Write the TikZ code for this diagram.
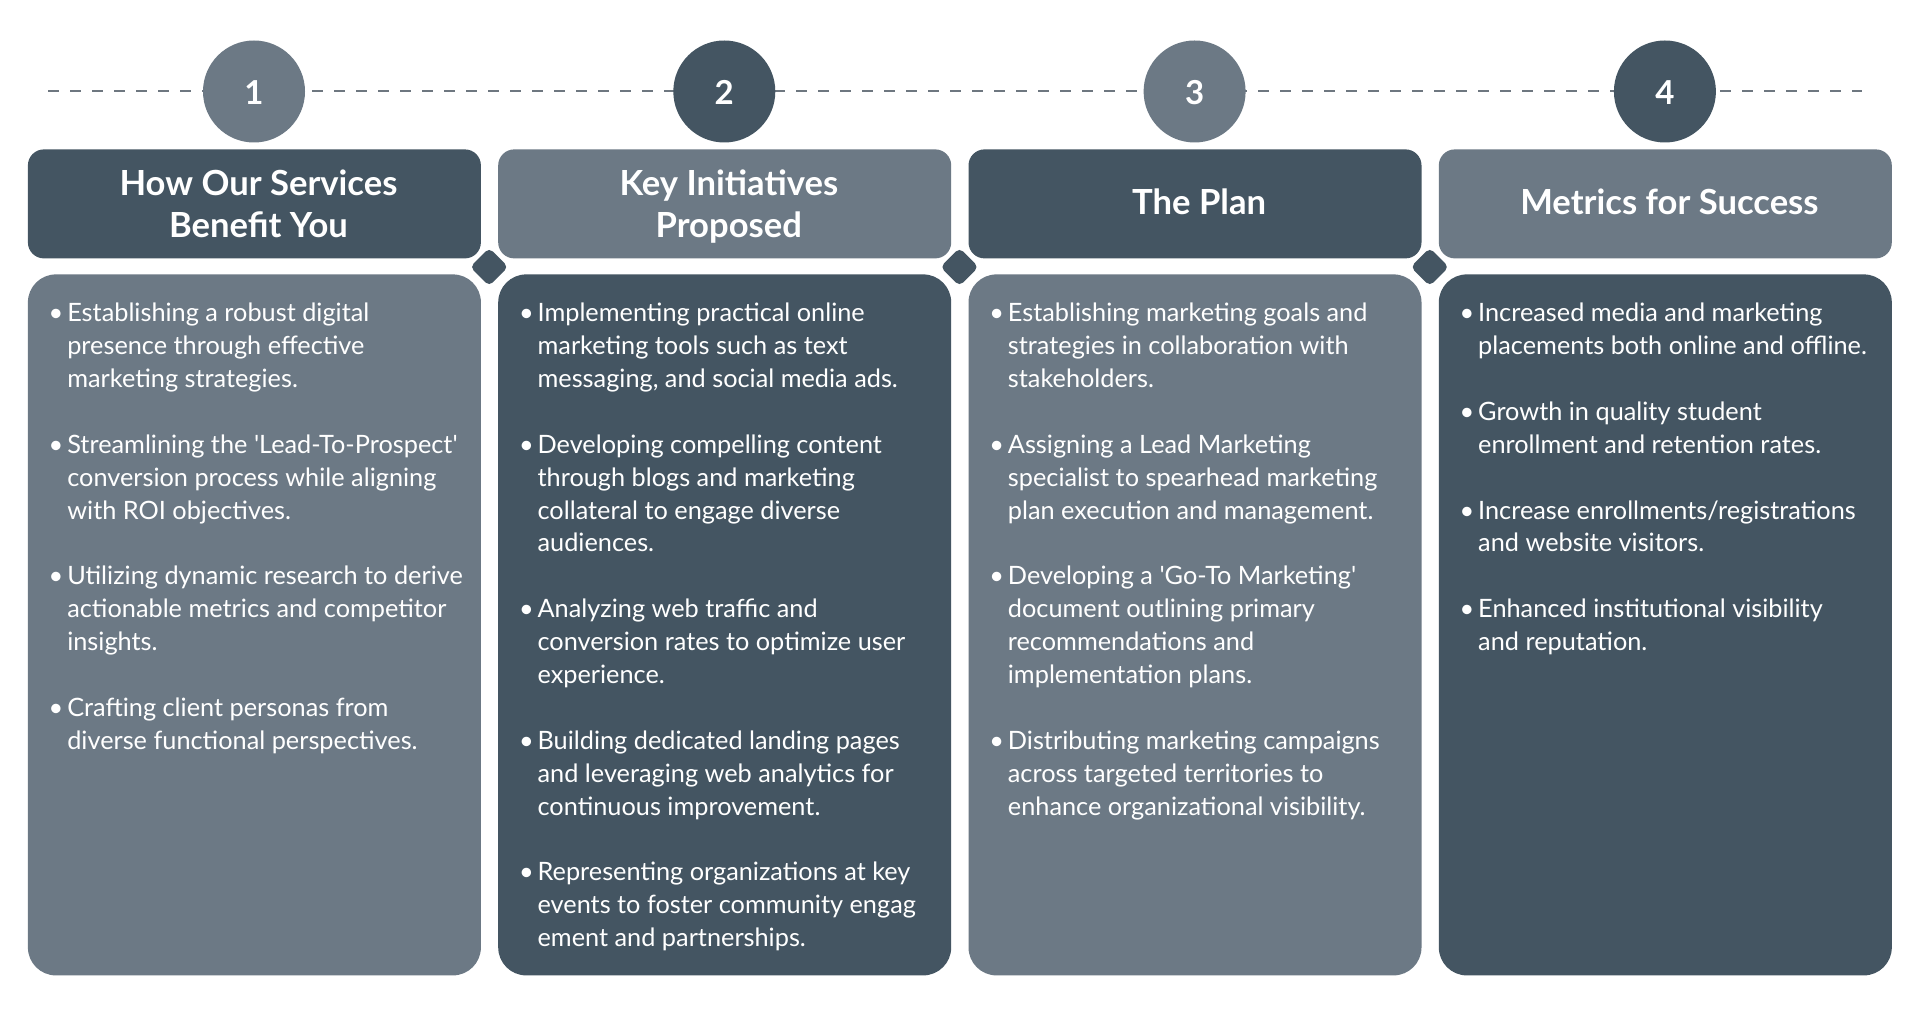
\documentclass[tikz,border=0pt]{standalone}
\usepackage{fontspec}
\newfontfamily\lato{Lato}
\definecolor{dk}{HTML}{445562}
\definecolor{lt}{HTML}{6C7985}
\definecolor{dashc}{HTML}{6E7780}
\begin{document}
\begin{tikzpicture}[x=0.5pt,y=-0.5pt,
  hdrbox/.style={rectangle, rounded corners=8pt, minimum width=226.5pt, minimum height=54.5pt, inner sep=0pt, anchor=north west},
  bodybox/.style={rectangle, rounded corners=14pt, minimum width=226.5pt, minimum height=350.5pt, inner sep=0pt, anchor=north west},
  numcirc/.style={circle, minimum size=51pt, inner sep=0pt},
  numtxt/.style={text=white, inner sep=0pt, anchor=base, font=\lato\bfseries\fontsize{16.5pt}{20pt}\selectfont},
  hdrtxt/.style={text=white, inner sep=0pt, anchor=base, font=\lato\bfseries\fontsize{17.3pt}{21pt}\selectfont},
  bodytxt/.style={text=white, inner sep=0pt, anchor=base west, font=\lato\fontsize{12.65pt}{16.45pt}\selectfont},
  gem/.style={rectangle, fill=dk, rotate=45, minimum size=13.5pt, inner sep=0pt, rounded corners=2.5pt}
]
\useasboundingbox (0,0) rectangle (1920,1020);
\fill[white] (0,0) rectangle (1920,1020);
% dashed timeline
\coordinate (ls) at (48,91.5);
\coordinate (le) at (1862,91.5);
\draw[dashc, line width=1pt, dash pattern=on 5.5pt off 5.5pt] (ls) -- (le);
% columns
\foreach \i/\hc/\bc/\n in {0/dk/lt/1, 1/lt/dk/2, 2/dk/lt/3, 3/lt/dk/4}{
  \pgfmathsetmacro\L{27.5+470.3*\i}
  \node[hdrbox, fill=\hc] (h\i) at (\L,149) {};
  \node[bodybox, fill=\bc] (b\i) at (\L,274) {};
  \node[numcirc, fill=\bc] (c\i) at (\L+226.5,91.5) {};
  \node[numtxt] (n\i) at (\L+226.5,104.5) {\n};
}
\foreach \i in {0,1,2}{
  \pgfmathsetmacro\L{27.5+470.3*\i}
  \node[gem] (d\i) at (\L+461.65,267) {};
}
% headers
\node[hdrtxt] (ht0) at (27.5+231,195.2) {\begin{tabular}[t]{@{}c@{}}How Our Services\\Benefit You\end{tabular}};
\node[hdrtxt] (ht1) at (497.8+231,195.2) {\begin{tabular}[t]{@{}c@{}}Key Initiatives\\Proposed\end{tabular}};
\node[hdrtxt] (ht2) at (968.1+231,214.7) {The Plan};
\node[hdrtxt] (ht3) at (1438.4+231,214.7) {Metrics for Success};
% bodies
\node[bodytxt] (bt0) at (27.5+20.8,321.7) {\begin{tabular}[t]{@{}p{9.3pt}@{}l@{}}
• & Establishing a robust digital\\ & presence through effective\\ & marketing strategies.\\ &\\
• & Streamlining the 'Lead-To-Prospect'\\ & conversion process while aligning\\ & with ROI objectives.\\ &\\
• & Utilizing dynamic research to derive\\ & actionable metrics and competitor\\ & insights.\\ &\\
• & Crafting client personas from\\ & diverse functional perspectives.
\end{tabular}};
\node[bodytxt] (bt1) at (497.8+20.8,321.7) {\begin{tabular}[t]{@{}p{9.3pt}@{}l@{}}
• & Implementing practical online\\ & marketing tools such as text\\ & messaging, and social media ads.\\ &\\
• & Developing compelling content\\ & through blogs and marketing\\ & collateral to engage diverse\\ & audiences.\\ &\\
• & Analyzing web traffic and\\ & conversion rates to optimize user\\ & experience.\\ &\\
• & Building dedicated landing pages\\ & and leveraging web analytics for\\ & continuous improvement.\\ &\\
• & Representing organizations at key\\ & events to foster community engag\\ & ement and partnerships.
\end{tabular}};
\node[bodytxt] (bt2) at (968.1+20.8,321.7) {\begin{tabular}[t]{@{}p{9.3pt}@{}l@{}}
• & Establishing marketing goals and\\ & strategies in collaboration with\\ & stakeholders.\\ &\\
• & Assigning a Lead Marketing\\ & specialist to spearhead marketing\\ & plan execution and management.\\ &\\
• & Developing a 'Go-To Marketing'\\ & document outlining primary\\ & recommendations and\\ & implementation plans.\\ &\\
• & Distributing marketing campaigns\\ & across targeted territories to\\ & enhance organizational visibility.
\end{tabular}};
\node[bodytxt] (bt3) at (1438.4+20.8,321.7) {\begin{tabular}[t]{@{}p{9.3pt}@{}l@{}}
• & Increased media and marketing\\ & placements both online and offline.\\ &\\
• & Growth in quality student\\ & enrollment and retention rates.\\ &\\
• & Increase enrollments/registrations\\ & and website visitors.\\ &\\
• & Enhanced institutional visibility\\ & and reputation.
\end{tabular}};
\end{tikzpicture}
\end{document}
